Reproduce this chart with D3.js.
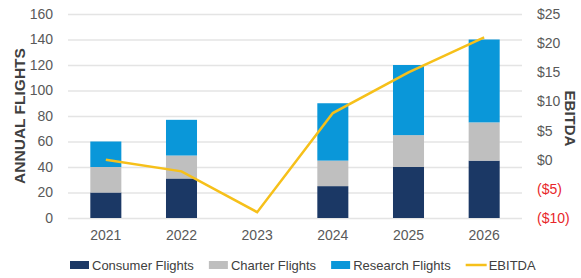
<!DOCTYPE html>
<html><head><meta charset="utf-8">
<script src="https://cdn.jsdelivr.net/npm/d3@7"></script>
<style>
html,body{margin:0;padding:0;background:#fff;}
svg{display:block;font-family:"Liberation Sans",Arial,sans-serif;}
</style></head>
<body><svg id="c" width="581" height="278"></svg>
<script>
const years = ["2021","2022","2023","2024","2025","2026"];
const consumer = [20,31,0,25,40,45];
const charter = [20,18,0,20,25,30];
const research = [20,28,0,45,55,65];
const ebitda = [0,-2,-9,8,15,21];
const leftTicks = [0,20,40,60,80,100,120,140,160];
const rightTicks = [-10,-5,0,5,10,15,20,25];
const seriesNames = ["Consumer Flights","Charter Flights","Research Flights"];
const lineName = "EBITDA";
const colors = ["#1b3865","#bfbfbf","#0a97d9"];
const lineColor = "#f6c01a";

const svg = d3.select("#c");
const L = 68, R = 522, T = 14, B = 218;
const x = d3.scaleBand().domain(years).range([L,R]).paddingInner(0.59).paddingOuter(0.295);
const y = d3.scaleLinear().domain([0,160]).range([B,T]);
const y2 = d3.scaleLinear().domain([-10,25]).range([B,T]);

// grid
svg.append("g").selectAll("line").data(leftTicks).join("line")
  .attr("x1",L).attr("x2",R).attr("y1",d=>y(d)+0.5).attr("y2",d=>y(d)+0.5)
  .attr("stroke","#e4e4e4").attr("stroke-width",1.3);

// stacked bars
const rows = years.map((yr,i)=>({year:yr, c:consumer[i], h:charter[i], r:research[i]}));
const stack = d3.stack().keys(["c","h","r"])(rows);
svg.append("g").selectAll("g").data(stack).join("g").attr("fill",(d,i)=>colors[i])
  .selectAll("rect").data(d=>d).join("rect")
  .attr("x",d=>x(d.data.year)).attr("width",x.bandwidth())
  .attr("y",d=>y(d[1])).attr("height",d=>y(d[0])-y(d[1]));

// line
svg.append("path").datum(ebitda)
  .attr("d",d3.line().x((d,i)=>x(years[i])+x.bandwidth()/2).y(d=>y2(d)))
  .attr("fill","none").attr("stroke",lineColor).attr("stroke-width",2.5);

// left axis
const axL = svg.append("g").attr("transform",`translate(${L},0)`)
  .call(d3.axisLeft(y).tickValues(leftTicks).tickSize(0).tickPadding(15));
axL.select(".domain").remove();
axL.selectAll("text").attr("fill","#595959").style("font-size","14px").style("font-family","Liberation Sans, Arial, sans-serif");

// right axis
const fmt = v => v<0 ? `($${-v})` : `$${v}`;
const axR = svg.append("g").attr("transform",`translate(${R},0)`)
  .call(d3.axisRight(y2).tickValues(rightTicks).tickFormat(fmt).tickSize(0).tickPadding(15));
axR.select(".domain").remove();
axR.selectAll("text").attr("fill",d=>d<0?"#e8262a":"#595959").style("font-size","14px").style("font-family","Liberation Sans, Arial, sans-serif");

// x axis
const axX = svg.append("g").attr("transform",`translate(0,${B})`)
  .call(d3.axisBottom(x).tickSize(0).tickPadding(12));
axX.select(".domain").remove();
axX.selectAll("text").attr("fill","#595959").style("font-size","14px").style("font-family","Liberation Sans, Arial, sans-serif");

// axis titles
svg.append("text").attr("transform","translate(25,116) rotate(-90)").attr("text-anchor","middle")
  .attr("fill","#404040").style("font-size","15.5px").style("font-weight","bold").text("ANNUAL FLIGHTS");
svg.append("text").attr("transform","translate(565,118.5) rotate(90)").attr("text-anchor","middle")
  .attr("fill","#404040").style("font-size","15px").style("font-weight","bold").text("EBITDA");

// legend
const lg = svg.append("g").attr("transform","translate(70,265)");
let cx = 0;
seriesNames.concat([lineName]).forEach((name,i)=>{
  if(i<3){
    lg.append("rect").attr("x",cx).attr("y",-4).attr("width",19).attr("height",8).attr("fill",colors[i]);
  } else {
    lg.append("line").attr("x1",cx).attr("x2",cx+21).attr("y1",0).attr("y2",0).attr("stroke",lineColor).attr("stroke-width",2.5);
  }
  const off = i<3?22:23;
  const t = lg.append("text").attr("x",cx+off).attr("y",0).attr("dy","0.35em")
    .attr("fill","#404040").style("font-size","13px").text(name);
  cx += off + t.node().getComputedTextLength() + 15;
});
</script></body></html>
